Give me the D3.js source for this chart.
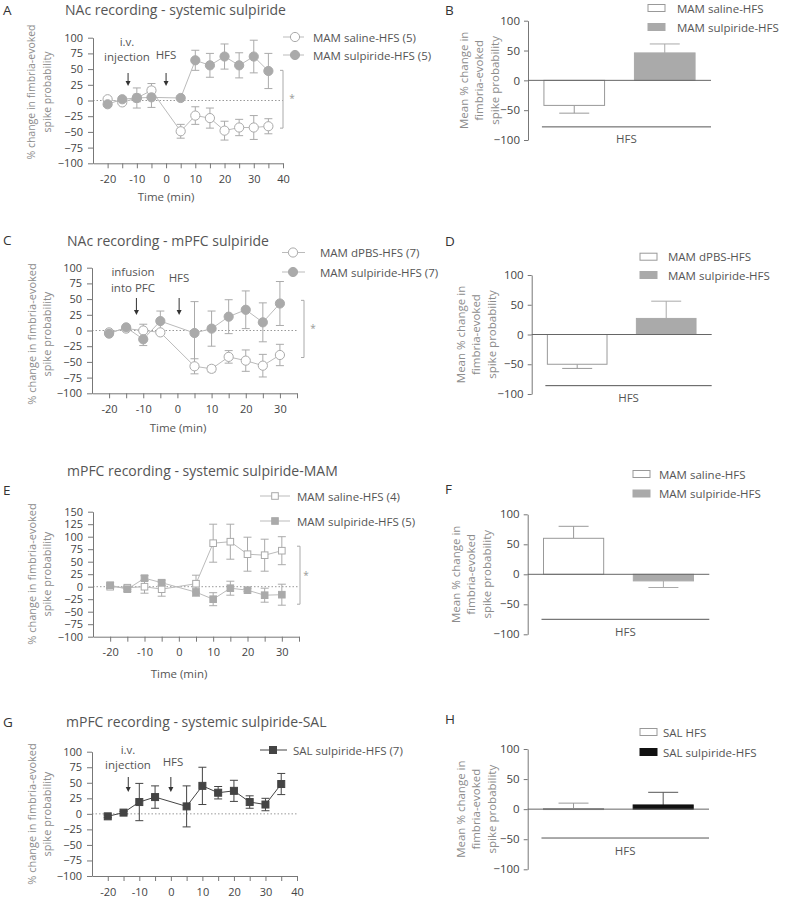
<!DOCTYPE html>
<html><head><meta charset="utf-8">
<script src="https://cdn.jsdelivr.net/npm/d3@7"></script>
<style>
body{margin:0;background:#fff;}
text{font-family:"Open Sans",sans-serif;}
</style></head><body>
<svg id="c" width="798" height="900"></svg>
<script>
// ---------------- DATA ----------------
const timesA = [-20,-15,-10,-5,5,10,15,20,25,30,35];
const aSalineMean = [2,-3,4,16,-49,-24,-28,-48,-43,-43,-41];
const aSalineErr  = [3,3,6,11,11,14,16,15,13,19,12];
const aSulpMean   = [-6,2,4,5,4,64,56,70,56,70,47];
const aSulpErr    = [3,3,16,16,3,16,19,20,20,26,28];
const legendA = ["MAM saline-HFS (5)","MAM sulpiride-HFS (5)"];

const timesC = [-20,-15,-10,-5,5,10,15,20,25,30];
const cDpbsMean = [-3,3,0,-3,-57,-61,-42,-48,-56,-39];
const cDpbsErr  = [3,3,10,3,12,5,10,17,18,17];
const cSulpMean = [-5,5,-14,15,-4,3,22,33,13,43];
const cSulpErr  = [3,3,10,16,50,28,27,30,31,35];
const legendC = ["MAM dPBS-HFS (7)","MAM sulpiride-HFS (7)"];

const timesE = [-20,-15,-10,-5,5,10,15,20,25,30];
const eSalineMean = [0,-2,0,-5,6,87,90,65,63,72];
const eSalineErr  = [3,3,13,14,17,38,35,34,32,28];
const eSulpMean   = [3,-5,17,8,-11,-25,-3,-7,-17,-16];
const eSulpErr    = [5,5,5,5,8,13,14,3,14,21];
const legendE = ["MAM saline-HFS (4)","MAM sulpiride-HFS (5)"];

const timesG = [-20,-15,-10,-5,5,10,15,20,25,30,35];
const gSulpMean = [-4,2,19,27,12,45,34,37,19,15,48];
const gSulpErr  = [2,2,30,18,33,30,10,17,10,10,17];
const legendG = ["SAL sulpiride-HFS (7)"];

const barCats = ["saline","sulpiride"];
const bMean = [-42,46], bErr = [13,15];
const dMean = [-50,27], dErr = [7,29];
const fMean = [60,-11], fErr = [20,11];
const hMean = [1,7],    hErr = [9,21];
const legendB = ["MAM saline-HFS","MAM sulpiride-HFS"];
const legendD = ["MAM dPBS-HFS","MAM sulpiride-HFS"];
const legendF = ["MAM saline-HFS","MAM sulpiride-HFS"];
const legendH = ["SAL HFS","SAL sulpiride-HFS"];

const yTicks100 = [-100,-75,-50,-25,0,25,50,75,100];
const yTicks150 = [-100,-75,-50,-25,0,25,50,75,100,125,150];
const barTicks = [-100,-50,0,50,100];

// ---------------- DRAW ----------------
const svg = d3.select("#c");
const AX = "#777", TXT = "#444", LBL = "#8c8c8c", LIGHT = "#aaa";

function txt(g, x, y, s, o={}) {
  return g.append("text").attr("x",x).attr("y",y).text(s)
    .attr("dominant-baseline","central")
    .attr("text-anchor", o.anchor||"start")
    .attr("fill", o.fill||"#555")
    .style("font-size",(o.size||11)+"px");
}
function letter(g, s, x, cy){
  g.append("text").attr("x",x).attr("y",cy+6).text(s).attr("fill","#333").style("font-size","13.5px");
}
function styleAxis(a, size){
  a.selectAll("path,line").attr("stroke",AX).attr("stroke-width",1);
  a.selectAll("text").attr("fill",TXT).style("font-size",(size||11)+"px");
}
function marker(g, shape, cx, cy, r, fill, stroke){
  if(shape==="circle"){
    g.append("circle").attr("cx",cx).attr("cy",cy).attr("r",r).attr("fill",fill).attr("stroke",stroke).attr("stroke-width",1);
  } else {
    g.append("rect").attr("x",cx-r).attr("y",cy-r).attr("width",2*r).attr("height",2*r).attr("fill",fill).attr("stroke",stroke).attr("stroke-width",1);
  }
}

function linePanel(p){
  const g = svg.append("g");
  const x = d3.scaleLinear().domain(p.xDomain).range(p.xRange);
  const y = d3.scaleLinear().domain(p.yDomain).range(p.yRange);
  letter(g, p.letter[0], p.letter[1], p.letter[2]);
  txt(g, p.title[1], p.title[2], p.title[0], {size:14, fill:"#555"});
  g.append("line").attr("x1",p.xRange[0]).attr("x2",p.xRange[1]).attr("y1",y(0)).attr("y2",y(0))
    .attr("stroke","#999").attr("stroke-dasharray","1.5,2");
  const ya = g.append("g").attr("transform",`translate(${p.xRange[0]},0)`)
    .call(d3.axisLeft(y).tickValues(p.yTicks).tickSize(5).tickSizeOuter(0).tickPadding(5));
  styleAxis(ya);
  const xa = g.append("g").attr("transform",`translate(0,${p.yRange[0]})`)
    .call(d3.axisBottom(x).tickValues(d3.range(-20,p.xDomain[1]+1,5)).tickSize(5).tickSizeOuter(0).tickPadding(7)
      .tickFormat(d => d%10===0 ? d : ""));
  styleAxis(xa);
  const yl = g.append("g").attr("transform",`translate(${p.ylab.x},${p.ylab.cy}) rotate(-90)`);
  yl.append("text").attr("x",0).attr("y",0).attr("text-anchor","middle").attr("dominant-baseline","central")
    .attr("fill",LBL).style("font-size",p.ylab.size+"px").text("% change in fimbria-evoked");
  yl.append("text").attr("x",0).attr("y",p.ylab.gap).attr("text-anchor","middle").attr("dominant-baseline","central")
    .attr("fill",LBL).style("font-size",p.ylab.size+"px").text("spike probability");
  if(p.timeLabel) txt(g, p.timeLabel[0], p.timeLabel[1], "Time (min)", {anchor:"middle", size:11.5, fill:"#555"});
  p.series.forEach(s => {
    const pts = s.t.map((t,i)=>({t, m:s.m[i], e:s.e[i]}));
    const eg = g.append("g").attr("stroke",s.color).attr("stroke-width",1);
    pts.forEach(d => {
      eg.append("line").attr("x1",x(d.t)).attr("x2",x(d.t)).attr("y1",y(d.m-d.e)).attr("y2",y(d.m+d.e));
      [d.m-d.e, d.m+d.e].forEach(v => eg.append("line").attr("x1",x(d.t)-4).attr("x2",x(d.t)+4).attr("y1",y(v)).attr("y2",y(v)));
    });
    g.append("path").datum(pts).attr("fill","none").attr("stroke",s.lineColor).attr("stroke-width",1)
      .attr("d", d3.line().x(d=>x(d.t)).y(d=>y(d.m)));
  });
  p.series.forEach(s => {
    s.t.forEach((t,i) => marker(g, s.shape, x(t), y(s.m[i]), s.r, s.open ? "#fff" : s.color, s.color));
  });
  p.series.forEach((s,i) => {
    const ly = p.legend.ys[i];
    g.append("line").attr("x1",p.legend.x1).attr("x2",p.legend.x2).attr("y1",ly).attr("y2",ly).attr("stroke",s.lineColor);
    marker(g, s.shape, p.legend.xm, ly, s.r, s.open ? "#fff" : s.color, s.color);
    txt(g, p.legend.tx, ly, p.legend.labels[i], {size:11.5, fill:"#555"});
  });
  (p.arrows||[]).forEach(a => {
    const ax = x(a.t);
    g.append("line").attr("x1",ax).attr("x2",ax).attr("y1",a.y1).attr("y2",a.y2-4).attr("stroke","#333").attr("stroke-width",1);
    g.append("path").attr("d",`M${ax-2.5},${a.y2-5}L${ax+2.5},${a.y2-5}L${ax},${a.y2}Z`).attr("fill","#333");
  });
  (p.notes||[]).forEach(n => txt(g, n[1], n[2], n[0], {anchor:"middle", size:11.5, fill:"#555"}));
  if(p.bracket){
    const b = p.bracket;
    g.append("path").attr("stroke","#aaa").attr("fill","none")
      .attr("d",`M${b.x-3},${y(b.v[0])}H${b.x}V${y(b.v[1])}H${b.x-3}`);
    txt(g, b.star[0], b.star[1], "*", {anchor:"middle", size:10, fill:"#999"});
  }
}

function barPanel(p){
  const g = svg.append("g");
  const y = d3.scaleLinear().domain([-100,100]).range(p.yRange);
  const x = d3.scaleBand().domain(barCats).range([p.axisX, p.endX]).paddingInner(0.33).paddingOuter(0.176);
  letter(g, p.letter[0], p.letter[1], p.letter[2]);
  const ya = g.append("g").attr("transform",`translate(${p.axisX},0)`)
    .call(d3.axisLeft(y).tickValues(barTicks).tickSize(4).tickSizeOuter(0).tickPadding(4));
  styleAxis(ya, 11.5);
  const yl = g.append("g").attr("transform",`translate(${p.ylabX},${y(0)}) rotate(-90)`);
  ["Mean % change in","fimbria-evoked","spike probability"].forEach((s,i) => {
    yl.append("text").attr("x",0).attr("y",i*15.5).attr("text-anchor","middle").attr("dominant-baseline","central")
      .attr("fill",LBL).style("font-size","11.5px").text(s);
  });
  const fills = ["#fff", p.sulpFill];
  const strokes = ["#999", p.sulpFill];
  barCats.forEach((c,i) => {
    const v = p.mean[i], e = p.err[i];
    const cx = x(c) + x.bandwidth()/2;
    const tip = v + Math.sign(v||1)*e;
    const ec = i===0 ? "#999" : p.sulpErr;
    g.append("line").attr("x1",cx).attr("x2",cx).attr("y1",y(v)).attr("y2",y(tip)).attr("stroke",ec);
    g.append("line").attr("x1",cx-15).attr("x2",cx+15).attr("y1",y(tip)).attr("y2",y(tip)).attr("stroke",ec);
    g.append("rect").attr("x",x(c)).attr("width",x.bandwidth())
      .attr("y",y(Math.max(v,0))).attr("height",Math.max(1,Math.abs(y(v)-y(0))))
      .attr("fill",fills[i]).attr("stroke",strokes[i]).attr("stroke-width",1);
  });
  g.append("line").attr("x1",p.axisX).attr("x2",p.endX).attr("y1",y(0)).attr("y2",y(0)).attr("stroke","#666");
  const hy = y(p.hfsLevel);
  g.append("line").attr("x1",x(barCats[0])-2).attr("x2",p.endX).attr("y1",hy).attr("y2",hy).attr("stroke","#555");
  txt(g, (x(barCats[0])-2+p.endX)/2, hy+12, "HFS", {anchor:"middle", size:11.5, fill:"#555"});
  p.legend.labels.forEach((s,i) => {
    const ly = p.legend.ys[i];
    g.append("rect").attr("x",p.legend.x).attr("y",ly-3.5).attr("width",17).attr("height",7)
      .attr("fill",fills[i]).attr("stroke",i===0?"#999":p.sulpFill);
    txt(g, p.legend.tx, ly, s, {size:11.5, fill:"#555"});
  });
}

const openGray = {shape:"circle", open:true, color:LIGHT, lineColor:"#bbb", r:4.6};
const fillGray = {shape:"circle", open:false, color:LIGHT, lineColor:"#bbb", r:4.6};

linePanel({
  letter:["A",3,8.5], title:["NAc recording - systemic sulpiride",65,9],
  xDomain:[-25,40], xRange:[93,283], yDomain:[-100,100], yRange:[163.3,37.7], yTicks:yTicks100,
  ylab:{x:31, cy:92, gap:16, size:10.5}, timeLabel:[166,196],
  series:[Object.assign({t:timesA,m:aSalineMean,e:aSalineErr},openGray),
          Object.assign({t:timesA,m:aSulpMean,e:aSulpErr},fillGray)],
  legend:{x1:283,x2:304,xm:295,tx:313,ys:[37,55],labels:legendA},
  arrows:[{t:-13,y1:73,y2:86},{t:0,y1:73,y2:86}],
  notes:[["i.v.",127,41.5],["injection",127,56.5],["HFS",166,54]],
  bracket:{x:283, v:[48,-44], star:[292,98]}
});

linePanel({
  letter:["C",3,239], title:["NAc recording - mPFC sulpiride",67,240],
  xDomain:[-25,35], xRange:[92,297], yDomain:[-100,100], yRange:[393.3,267.7], yTicks:yTicks100,
  ylab:{x:31, cy:334, gap:15.5, size:11}, timeLabel:[178,427],
  series:[Object.assign({t:timesC,m:cDpbsMean,e:cDpbsErr},openGray),
          Object.assign({t:timesC,m:cSulpMean,e:cSulpErr},fillGray)],
  legend:{x1:282,x2:305,xm:293,tx:320,ys:[252.5,272],labels:legendC},
  arrows:[{t:-12,y1:298,y2:315},{t:0.5,y1:298,y2:315}],
  notes:[["infusion",133,271.5],["into PFC",133,287.5],["HFS",179,277]],
  bracket:{x:304, v:[48,-43], star:[313,328]}
});

linePanel({
  letter:["E",3,489], title:["mPFC recording - systemic sulpiride-MAM",67,470],
  xDomain:[-25,35], xRange:[93,299], yDomain:[-100,150], yRange:[636.7,511.7], yTicks:yTicks150,
  ylab:{x:31, cy:574, gap:15.5, size:11}, timeLabel:[179,673],
  series:[{t:timesE,m:eSalineMean,e:eSalineErr,shape:"square",open:true,color:LIGHT,lineColor:"#bbb",r:3.3},
          {t:timesE,m:eSulpMean,e:eSulpErr,shape:"square",open:false,color:LIGHT,lineColor:"#bbb",r:3.3}],
  legend:{x1:260,x2:290,xm:275,tx:297,ys:[496,521],labels:legendE},
  bracket:{x:300, v:[81,-35], star:[306,575]}
});

linePanel({
  letter:["G",3,721], title:["mPFC recording - systemic sulpiride-SAL",66,721],
  xDomain:[-25,40], xRange:[92,297], yDomain:[-100,100], yRange:[876,751.7], yTicks:yTicks100,
  ylab:{x:31, cy:814, gap:15.5, size:11},
  series:[{t:timesG,m:gSulpMean,e:gSulpErr,shape:"square",open:false,color:"#444",lineColor:"#444",r:3.5}],
  legend:{x1:260,x2:287,xm:273,tx:293,ys:[750],labels:legendG},
  arrows:[{t:-13.5,y1:777,y2:792},{t:0,y1:777,y2:792}],
  notes:[["i.v.",128,749],["injection",128,764],["HFS",173,761]]
});

barPanel({letter:["B",445,8.5], axisX:528, endX:711, yRange:[140,20.7], ylabX:463,
  mean:bMean, err:bErr, sulpFill:"#aaa", sulpErr:"#aaa", hfsLevel:-78,
  legend:{x:648, tx:677, ys:[8,27], labels:legendB}});
barPanel({letter:["D",445,240], axisX:531.7, endX:711.7, yRange:[394,275], ylabX:460,
  mean:dMean, err:dErr, sulpFill:"#aaa", sulpErr:"#aaa", hfsLevel:-86,
  legend:{x:640, tx:668, ys:[256.7,275], labels:legendD}});
barPanel({letter:["F",445,488], axisX:527.7, endX:709.3, yRange:[634.3,514.3], ylabX:455,
  mean:fMean, err:fErr, sulpFill:"#aaa", sulpErr:"#aaa", hfsLevel:-75,
  legend:{x:633, tx:659, ys:[474,493.5], labels:legendF}});
barPanel({letter:["H",445,718], axisX:527.7, endX:709, yRange:[869.3,749], ylabX:460,
  mean:hMean, err:hErr, sulpFill:"#111", sulpErr:"#555", hfsLevel:-48,
  legend:{x:640, tx:663, ys:[732,752], labels:legendH}});
</script>
</body></html>
